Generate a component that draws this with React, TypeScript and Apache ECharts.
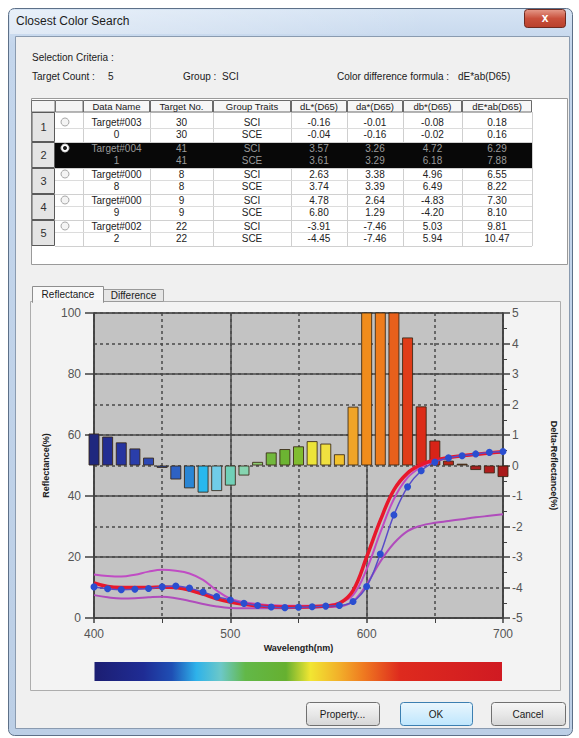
import React, { useEffect, useRef } from "react";
import * as echarts from "echarts";

// ---------- chart data ----------
const wavelengths = [400, 410, 420, 430, 440, 450, 460, 470, 480, 490, 500, 510, 520, 530, 540, 550, 560, 570, 580, 590, 600, 610, 620, 630, 640, 650, 660, 670, 680, 690, 700];
const deltaReflectance = [1.05, 0.95, 0.76, 0.56, 0.26, -0.08, -0.46, -0.75, -0.89, -0.84, -0.66, -0.33, 0.12, 0.43, 0.54, 0.63, 0.8, 0.72, 0.37, 1.93, 6.5, 7.0, 6.2, 4.2, 1.94, 0.82, 0.16, 0.06, -0.15, -0.26, -0.38];
const sampleReflectance = [11.5, 10.3, 10.0, 10.0, 10.0, 10.2, 10.0, 9.2, 7.8, 6.3, 5.2, 4.5, 4.0, 3.7, 3.6, 3.6, 3.7, 3.9, 4.8, 9.0, 20.0, 32.0, 42.0, 47.5, 50.3, 51.8, 52.6, 53.2, 53.7, 54.1, 54.5];
const targetReflectance = [10.2, 9.6, 9.3, 9.4, 9.7, 10.2, 10.5, 9.8, 8.5, 7.0, 5.9, 4.8, 4.1, 3.6, 3.4, 3.5, 3.7, 3.9, 4.1, 5.4, 10.3, 21.0, 33.8, 43.0, 48.3, 51.1, 52.5, 53.2, 53.8, 54.3, 54.6];
const upperTolerance = [14.3, 13.8, 13.6, 14.2, 15.2, 15.8, 15.5, 14.6, 12.5, 9.0, 6.3, 5.2, 4.6, 4.2, 4.0, 4.0, 4.0, 4.2, 5.0, 7.5, 16.0, 28.0, 39.0, 46.0, 49.5, 51.5, 52.5, 53.0, 53.5, 54.0, 54.3];
const lowerTolerance = [7.5, 6.8, 6.4, 6.5, 6.8, 7.0, 6.5, 5.6, 4.6, 3.8, 3.3, 3.2, 3.2, 3.2, 3.2, 3.3, 3.4, 3.6, 3.8, 5.5, 11.0, 18.5, 24.5, 28.5, 30.3, 31.2, 31.8, 32.4, 33.0, 33.5, 34.0];

// ---------- table data ----------
const criteriaTargetCount = 5;
const criteriaGroup = "SCI";
const criteriaFormula = "dE*ab(D65)";
const tableHeaders = ["Data Name", "Target No.", "Group Traits", "dL*(D65)", "da*(D65)", "db*(D65)", "dE*ab(D65)"];
const dataNames = [["Target#003", "0"], ["Target#004", "1"], ["Target#000", "8"], ["Target#000", "9"], ["Target#002", "2"]];
const targetNos = [[30, 30], [41, 41], [8, 8], [9, 9], [22, 22]];
const groupTraits = [["SCI", "SCE"], ["SCI", "SCE"], ["SCI", "SCE"], ["SCI", "SCE"], ["SCI", "SCE"]];
const dLValues = [[-0.16, -0.04], [3.57, 3.61], [2.63, 3.74], [4.78, 6.8], [-3.91, -4.45]];
const daValues = [[-0.01, -0.16], [3.26, 3.29], [3.38, 3.39], [2.64, 1.29], [-7.46, -7.46]];
const dbValues = [[-0.08, -0.02], [4.72, 6.18], [4.96, 6.49], [-4.83, -4.2], [5.03, 5.94]];
const dEValues = [[0.18, 0.16], [6.29, 7.88], [6.55, 8.22], [7.3, 8.1], [9.81, 10.47]];
const selectedRow = 1;

// ---------- styles ----------
const barColors = ["#20287e", "#232d92", "#2634a0", "#2a3eaa", "#2c48b4", "#2a4fb0", "#2e62c4", "#2a86d4", "#28b8ee", "#70cce8", "#70d0b8", "#86d4b0", "#8ccc70", "#72b83c", "#6cb432", "#80bc30", "#ece438", "#f0e040", "#f2c22c", "#f0a428", "#f08c1c", "#ee7c1c", "#e8601c", "#e03c18", "#dc2c18", "#d82418", "#b82418", "#7a3818", "#a82020", "#b01c1c", "#a81a1a"];
const F = '"Liberation Sans", Arial, sans-serif';

function txt(text: string, x: number, y: number, o: any = {}) {
  const align = o.align || "left";
  return {
    type: "text", x, y, z: 50, silent: true,
    style: {
      text, font: `${o.weight || "normal"} ${o.size || 10}px ${F}`, fill: o.fill || "#1a1a1a",
      align, textAlign: align, verticalAlign: "middle", textVerticalAlign: "middle",
    },
  };
}
function rect(x: number, y: number, w: number, h: number, style: any, z = -10, r = 0) {
  return { type: "rect", z, silent: true, shape: { x, y, width: w, height: h, r }, style };
}
function line(x1: number, y1: number, x2: number, y2: number, stroke: string, z = 5, lw = 1) {
  return { type: "line", z, silent: true, shape: { x1, y1, x2, y2 }, style: { stroke, lineWidth: lw } };
}

function buildGraphics() {
  const G = echarts.graphic;
  const els: any[] = [];
  // window frame
  els.push(rect(8.5, 8.5, 564, 727, { fill: new G.LinearGradient(0, 0, 0, 1, [{ offset: 0, color: "#d6e4f4" }, { offset: 0.05, color: "#c4d6ec" }, { offset: 1, color: "#bccfe6" }]), stroke: "#5d7088", lineWidth: 1 }, -20, 6));
  els.push(rect(10, 10, 420, 24, { fill: new G.LinearGradient(0, 0, 1, 0, [{ offset: 0, color: "rgba(255,255,255,0.45)" }, { offset: 1, color: "rgba(255,255,255,0)" }]) }, -19));
  els.push(txt("Closest Color Search", 16, 21, { size: 12, fill: "#1c1c1c" }));
  // close button
  els.push(rect(524.5, 9.5, 41, 18, { fill: new G.LinearGradient(0, 0, 0, 1, [{ offset: 0, color: "#e59a8a" }, { offset: 0.5, color: "#c9503c" }, { offset: 1, color: "#b8402c" }]), stroke: "#6e2a20", lineWidth: 1 }, 10, 3));
  els.push(txt("x", 545, 18, { size: 12, weight: "bold", fill: "#ffffff", align: "center" }));
  // client area
  els.push(rect(15.5, 36.5, 554, 692, { fill: "#f0f0f0", stroke: "#8a9bb0", lineWidth: 1 }, -18));

  // selection criteria
  els.push(txt("Selection Criteria :", 32, 57, { size: 10 }));
  els.push(txt("Target Count :", 32, 76, { size: 10 }));
  els.push(txt(String(criteriaTargetCount), 108, 76, { size: 10 }));
  els.push(txt("Group :", 183, 76, { size: 10 }));
  els.push(txt(criteriaGroup, 222, 76, { size: 10 }));
  els.push(txt("Color difference formula :", 337, 76, { size: 10 }));
  els.push(txt(criteriaFormula, 458, 76, { size: 10 }));

  // table control
  els.push(rect(31.5, 98.5, 536, 166, { fill: "#ffffff", stroke: "#9a9a9a", lineWidth: 1 }, -15));
  const edges = [31.5, 55, 83, 150, 213, 291, 347, 403, 462, 532];
  // header
  els.push(rect(31.5, 100.5, 23.5, 11.5, { fill: "#f4f4f4", stroke: "#707070", lineWidth: 1 }, 2));
  els.push(rect(55.5, 100.5, 27.5, 11.5, { fill: "#f4f4f4", stroke: "#707070", lineWidth: 1 }, 2));
  tableHeaders.forEach((h, k) => {
    const x0 = edges[k + 2], x1 = edges[k + 3];
    els.push(rect(x0 + 0.5, 100.5, x1 - x0 - 1, 11.5, { fill: "#f6f6f6", stroke: "#6a6a6a", lineWidth: 1 }, 2));
    els.push(txt(h, (x0 + x1) / 2, 106.5, { size: 9.5, align: "center", fill: "#202020" }));
  });
  // rows
  const cols = [dataNames, targetNos, groupTraits, dLValues, daValues, dbValues, dEValues];
  for (let i = 0; i < dataNames.length; i++) {
    const top = i === 0 ? 112 : 116 + 26 * i;
    const bottom = 142 + 26 * i;
    const sel = i === selectedRow;
    if (sel) els.push(rect(55, top, 477, bottom - top, { fill: "#080808" }, 1));
    // row number cell
    els.push(rect(32, top + 0.5, 22.5, bottom - top - 1, { fill: "#e4e4e4", stroke: "#5a5a5a", lineWidth: 1 }, 3));
    els.push(txt(String(i + 1), 43.5, (top + bottom) / 2, { size: 11, align: "center", fill: "#303030" }));
    // sub-row divider
    if (!sel) els.push(line(55, 128.5 + 26 * i, 532, 128.5 + 26 * i, "#dcdcdc", 2));
    els.push(line(55, bottom + 0.5, 532, bottom + 0.5, "#d0d0d0", 2));
    // radio
    const cy = 122 + 26 * i;
    els.push({ type: "circle", z: 6, silent: true, shape: { cx: 65, cy, r: 4 }, style: { fill: sel ? "#ffffff" : "#f4f4f4", stroke: sel ? "#d0d0d0" : "#a8a8a8", lineWidth: 1 } });
    if (sel) els.push({ type: "circle", z: 7, silent: true, shape: { cx: 65, cy, r: 2 }, style: { fill: "#1a1a1a" } });
    for (let j = 0; j < 2; j++) {
      const y = 122 + 26 * i + 12.5 * j;
      cols.forEach((c, k) => {
        const v = c[i][j];
        const s = typeof v === "number" && k >= 3 ? v.toFixed(2) : String(v);
        const x0 = edges[k + 2], x1 = edges[k + 3];
        els.push(txt(s, (x0 + x1) / 2, y, { size: 10, align: "center", fill: sel ? "#9a9a9a" : "#222222" }));
      });
    }
  }
  // vertical column lines
  for (let k = 2; k < edges.length; k++) {
    els.push(line(edges[k] + 0.5, 112, edges[k] + 0.5, 246, "#cfcfcf", 0));
  }

  // tabs and tab page
  els.push(rect(30.5, 301.5, 530, 389, { fill: "#f3f3f3", stroke: "#adadad", lineWidth: 1 }, -14));
  els.push(rect(103.5, 289.5, 60, 12, { fill: "#e6e6e6", stroke: "#9a9a9a", lineWidth: 1 }, -13));
  els.push(rect(32.5, 286.5, 71, 16, { fill: "#f9f9f9", stroke: "#8e8e8e", lineWidth: 1 }, -12));
  els.push(rect(33, 300, 70, 3, { fill: "#f3f3f3" }, -11));
  els.push(txt("Reflectance", 68, 294, { size: 10, align: "center" }));
  els.push(txt("Difference", 133.5, 295.5, { size: 10, align: "center" }));

  // spectrum colour bar
  els.push(rect(94.5, 662, 407.5, 19, {
    fill: new G.LinearGradient(0, 0, 1, 0, [
      { offset: 0, color: "#1c1e72" }, { offset: 0.12, color: "#1f2c94" }, { offset: 0.19, color: "#1f4fb4" },
      { offset: 0.25, color: "#2eb2ea" }, { offset: 0.31, color: "#6cc8c8" }, { offset: 0.37, color: "#62b848" },
      { offset: 0.47, color: "#66b030" }, { offset: 0.53, color: "#f2e632" }, { offset: 0.6, color: "#f2b02a" },
      { offset: 0.66, color: "#ef7a20" }, { offset: 0.75, color: "#de2a1e" }, { offset: 1, color: "#d01a22" },
    ]),
  }, 0));

  // buttons
  const btn = (label: string, x: number, w: number, def = false) => {
    els.push(rect(x + 0.5, 702.5, w, 23, { fill: new G.LinearGradient(0, 0, 0, 1, def ? [{ offset: 0, color: "#eaf6fd" }, { offset: 1, color: "#bee6fd" }] : [{ offset: 0, color: "#f6f6f6" }, { offset: 0.5, color: "#e8e8e8" }, { offset: 1, color: "#d6d6d6" }]), stroke: def ? "#3c7fb1" : "#707070", lineWidth: 1 }, 0, 3));
    els.push(txt(label, x + w / 2, 714, { size: 10, align: "center" }));
  };
  btn("Property...", 306, 73);
  btn("OK", 400, 72, true);
  btn("Cancel", 491, 74);
  return els;
}

export default function App() {
  const ref = useRef<HTMLDivElement>(null);
  useEffect(() => {
    if (!ref.current) return;
    const chart = echarts.init(ref.current, undefined, { renderer: "svg" });
    const axisName = { fontSize: 9, fontWeight: "bold", color: "#202020", fontFamily: F };
    const lab = { color: "#555555", fontSize: 12, fontFamily: F };
    const pairs = (vals: number[]) => wavelengths.map((w, i) => [w, vals[i]]);
    const option: any = {
      animation: false,
      backgroundColor: "#ffffff",
      textStyle: { fontFamily: F },
      graphic: { elements: buildGraphics() },
      grid: { left: 94, top: 313, width: 409, height: 305, show: true, backgroundColor: "#c3c3c3", borderColor: "#4a4a4a", borderWidth: 1 },
      xAxis: [
        {
          type: "value", min: 400, max: 700, interval: 100, position: "bottom",
          name: "Wavelength(nm)", nameLocation: "middle", nameGap: 25, nameTextStyle: axisName,
          axisLine: { show: true, lineStyle: { color: "#404040", width: 1.5 } },
          axisTick: { show: true, length: 5, lineStyle: { color: "#404040", width: 1.5 } },
          minorTick: { show: true, splitNumber: 2, length: 5, lineStyle: { color: "#404040", width: 1 } },
          axisLabel: { ...lab, margin: 10 },
          splitLine: { show: true, lineStyle: { color: "#4a4a4a", width: 1.5, type: "solid" } },
        },
        {
          type: "value", min: 400, max: 700, interval: 50, position: "top",
          axisLine: { show: false }, axisTick: { show: false }, axisLabel: { show: false },
          splitLine: { show: true, lineStyle: { color: "#4a4a4a", width: 1.5, type: [3, 3] } },
        },
      ],
      yAxis: [
        {
          type: "value", min: 0, max: 100, interval: 20, position: "left",
          name: "Reflectance(%)", nameLocation: "middle", nameGap: 42, nameRotate: 90, nameTextStyle: axisName,
          axisLine: { show: true, lineStyle: { color: "#404040", width: 1.5 } },
          axisTick: { show: true, length: 9, lineStyle: { color: "#404040", width: 1.5 } },
          axisLabel: { ...lab, margin: 13 },
          splitLine: { show: true, lineStyle: { color: "#4a4a4a", width: 1.5, type: "solid" } },
        },
        {
          type: "value", min: -5, max: 5, interval: 1, position: "right",
          name: "Delta-Reflectance(%)", nameLocation: "middle", nameGap: 46, nameRotate: -90, nameTextStyle: axisName,
          axisLine: { show: true, lineStyle: { color: "#404040", width: 1.5 } },
          axisTick: { show: true, length: 7, lineStyle: { color: "#404040", width: 1.5 } },
          minorTick: { show: true, splitNumber: 2, length: 4, lineStyle: { color: "#404040", width: 1 } },
          axisLabel: { ...lab, margin: 9 },
          splitLine: { show: true, lineStyle: { color: "#4a4a4a", width: 1.5, type: [3, 3] } },
        },
      ],
      series: [
        {
          type: "bar", xAxisIndex: 0, yAxisIndex: 1, barWidth: 11, clip: true, z: 2,
          itemStyle: { borderColor: "rgba(55,38,20,0.85)", borderWidth: 1 },
          data: wavelengths.map((w, i) => ({ value: [w, deltaReflectance[i]], itemStyle: { color: barColors[i], borderColor: "rgba(55,38,20,0.85)", borderWidth: 1 } })),
        },
        { type: "line", name: "Upper", xAxisIndex: 0, yAxisIndex: 0, smooth: 0.4, showSymbol: false, z: 3, lineStyle: { color: "#c04cc4", width: 2 }, data: pairs(upperTolerance) },
        { type: "line", name: "Lower", xAxisIndex: 0, yAxisIndex: 0, smooth: 0.4, showSymbol: false, z: 3, lineStyle: { color: "#b04cbc", width: 2 }, data: pairs(lowerTolerance) },
        { type: "line", name: "Sample", xAxisIndex: 0, yAxisIndex: 0, smooth: 0.4, showSymbol: false, z: 4, lineStyle: { color: "#e8182c", width: 3.5 }, data: pairs(sampleReflectance) },
        { type: "line", name: "Target", xAxisIndex: 0, yAxisIndex: 0, smooth: 0.4, symbol: "circle", symbolSize: 7, showSymbol: true, z: 5, itemStyle: { color: "#2a4ed0" }, lineStyle: { color: "#5a4cc8", width: 1.5 }, data: pairs(targetReflectance) },
      ],
    };
    chart.setOption(option);
    return () => chart.dispose();
  }, []);
  return <div ref={ref} style={{ position: "fixed", left: 0, top: 0, width: 579, height: 738 }} />;
}
